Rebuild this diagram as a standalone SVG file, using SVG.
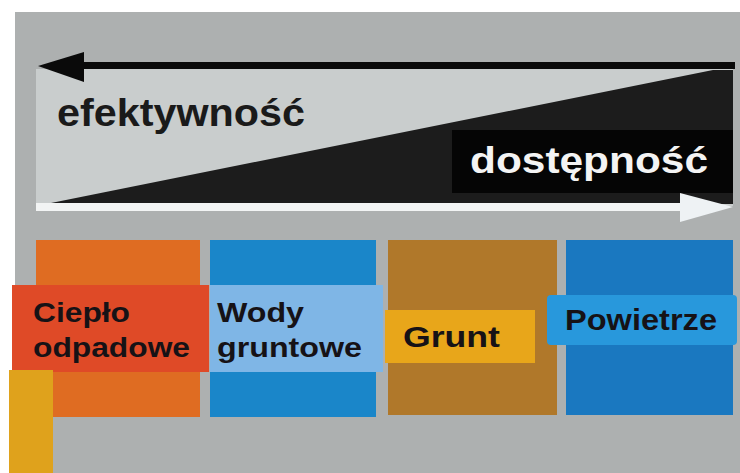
<svg xmlns="http://www.w3.org/2000/svg" width="740" height="473" viewBox="0 0 740 473">
<style>
.lbl{font-family:"Liberation Sans",Arial,sans-serif;font-weight:bold;fill:#161216}
.big{font-family:"Liberation Sans",Arial,sans-serif;font-weight:bold}
</style>
<rect x="0" y="0" width="740" height="473" fill="#ffffff"/>
<rect x="15" y="12" width="725" height="461" fill="#adb0b0"/>
<g id="scale">
<rect x="36" y="69" width="697" height="137" fill="#c9cdcd"/>
<polygon points="46,204 713,70 733,70 733,204" fill="#1c1c1c"/>
<rect x="452" y="130" width="281" height="63" fill="#050505"/>
<text class="big" x="57" y="126" font-size="39" fill="#1a1a1a" textLength="248" lengthAdjust="spacingAndGlyphs">efektywność</text>
<text class="big" x="470" y="173" font-size="37" fill="#f4f4f4" textLength="238" lengthAdjust="spacingAndGlyphs">dostępność</text>
</g>
<g id="connectors">
<rect x="78" y="62" width="657" height="7" fill="#0a0a0a"/>
<polygon points="38,66 84,52 84,82" fill="#0a0a0a"/>
<rect x="36" y="203" width="650" height="8" fill="#f2f4f4"/>
<polygon points="680,193 733,207 680,222" fill="#eef2f4"/>
</g>
<g id="cieplo">
<rect x="36" y="240" width="164" height="177" fill="#df6c22"/>
<rect x="12" y="285" width="197" height="87" fill="#df4a27"/>
<rect x="9" y="370" width="44" height="103" fill="#dfa21c"/>
<text class="lbl" x="33" y="322" font-size="27" textLength="97" lengthAdjust="spacingAndGlyphs">Ciepło</text>
<text class="lbl" x="33" y="357" font-size="27" textLength="157" lengthAdjust="spacingAndGlyphs">odpadowe</text>
</g>
<g id="wody">
<rect x="210" y="240" width="166" height="177" fill="#1a86c9"/>
<rect x="210" y="285" width="173" height="87" fill="#7fb6e6"/>
<text class="lbl" x="217" y="322" font-size="27" textLength="87" lengthAdjust="spacingAndGlyphs">Wody</text>
<text class="lbl" x="217" y="357" font-size="27" textLength="145" lengthAdjust="spacingAndGlyphs">gruntowe</text>
</g>
<g id="grunt">
<rect x="388" y="240" width="169" height="175" fill="#b0782a"/>
<rect x="385" y="310" width="150" height="53" fill="#e8a61a"/>
<text class="lbl" x="403" y="347" font-size="29" textLength="97" lengthAdjust="spacingAndGlyphs">Grunt</text>
</g>
<g id="powietrze">
<rect x="566" y="240" width="167" height="175" fill="#1a78c0"/>
<rect x="547" y="295" width="190" height="50" rx="4" fill="#2898dc"/>
<text class="lbl" x="565" y="330" font-size="29" textLength="152" lengthAdjust="spacingAndGlyphs">Powietrze</text>
</g>
</svg>
